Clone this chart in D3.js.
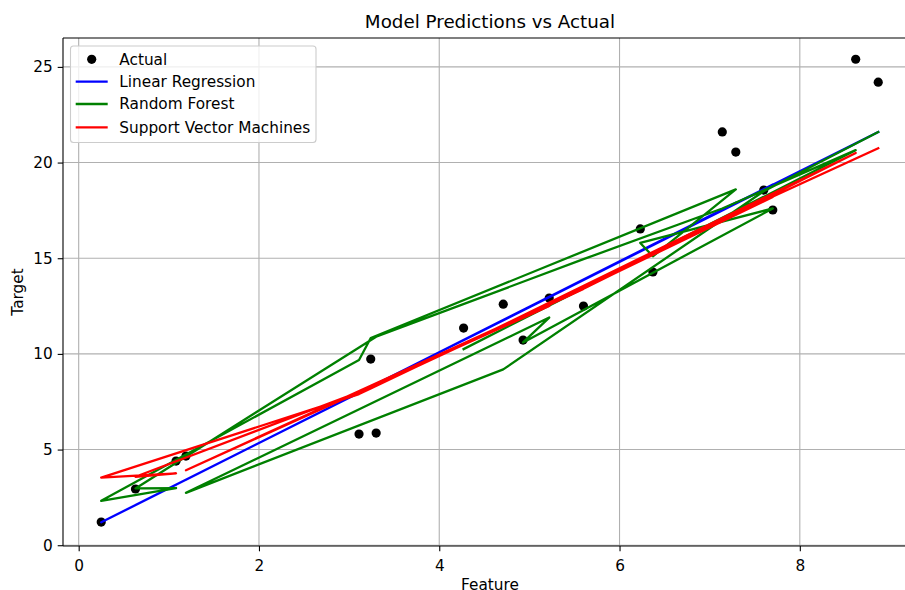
<!DOCTYPE html>
<html>
<head>
<meta charset="utf-8">
<script src="https://cdn.jsdelivr.net/npm/d3@7"></script>
<style>
  body { margin: 0; background: #fff; overflow: hidden; }
  text { font-family: "DejaVu Sans", sans-serif; fill: #000; }
</style>
</head>
<body>
<svg width="905" height="590"></svg>
<script>
// test points, in the order they were plotted (lines follow this order, unsorted)
let xTest     = [8.87, 7.60, 4.71, 1.19, 5.22, 4.93, 7.70, 6.23, 6.37, 7.29, 3.24, 3.11, 0.25, 1.08, 0.63, 3.30, 5.60, 7.14, 8.62, 4.27];
let yTest     = [24.20, 18.56, 12.60, 4.66, 12.92, 10.72, 17.52, 16.53, 14.28, 20.55, 9.73, 5.81, 1.21, 4.40, 2.94, 5.86, 12.50, 21.60, 25.40, 11.35];
let lrPred    = [21.60, 18.60, 11.76, 3.42, 12.97, 12.28, 18.85, 15.37, 15.70, 17.90, 8.28, 7.97, 1.20, 3.16, 2.10, 8.42, 13.87, 17.50, 21.00, 10.72];
let rfPred    = [21.60, 18.50, 9.19, 2.74, 11.90, 10.60, 17.60, 15.80, 15.10, 18.60, 10.83, 9.68, 2.32, 2.99, 2.97, 10.90, 14.95, 17.60, 20.65, 10.25];
let svrPred   = [20.75, 18.00, 11.50, 3.92, 12.50, 11.90, 18.20, 14.90, 15.20, 17.30, 8.20, 7.90, 3.53, 3.76, 3.58, 8.35, 13.40, 17.00, 20.50, 10.50];
let xTicks    = [0, 2, 4, 6, 8];
let yTicks    = [0, 5, 10, 15, 20, 25];
let seriesNames = ["Linear Regression", "Random Forest", "Support Vector Machines"];
let seriesColors = ["blue", "green", "red"];

let svg = d3.select("svg");

// plot area (right edge falls outside the picture, like the original crop)
let pLeft = 63, pRight = 917, pTop = 38, pBottom = 546;
let fs = 15.3, lw = 2.3;

let x = d3.scaleLinear().domain([-0.174, 9.30]).range([pLeft, pRight]);
let y = d3.scaleLinear().domain([-0.04, 26.51]).range([pBottom, pTop]);

// grid
let grid = svg.append("g").attr("stroke", "#b0b0b0").attr("stroke-width", 1.1);
grid.selectAll("line.vx").data(xTicks).enter().append("line")
    .attr("x1", d => x(d)).attr("x2", d => x(d))
    .attr("y1", pTop).attr("y2", pBottom);
grid.selectAll("line.hy").data(yTicks).enter().append("line")
    .attr("x1", pLeft).attr("x2", pRight)
    .attr("y1", d => y(d)).attr("y2", d => y(d));

// axes
let xAxis = d3.axisBottom(x).tickValues(xTicks).tickSize(5.3).tickPadding(9).tickFormat(d3.format("d"));
let yAxis = d3.axisLeft(y).tickValues(yTicks).tickSize(5.3).tickPadding(5).tickFormat(d3.format("d"));

let gx = svg.append("g").attr("transform", `translate(0,${pBottom})`).call(xAxis);
let gy = svg.append("g").attr("transform", `translate(${pLeft},0)`).call(yAxis);
[gx, gy].forEach(g => {
    g.select(".domain").remove();
    g.selectAll("line").attr("stroke", "#000").attr("stroke-width", 1.1);
    g.selectAll("text").attr("font-size", fs).attr("font-family", "DejaVu Sans");
});

let rows = xTest.map((v, i) => ({x: v, y: yTest[i], lr: lrPred[i], rf: rfPred[i], svr: svrPred[i]}));
let keys = ["lr", "rf", "svr"];

let plot = svg.append("g");
plot.selectAll("circle").data(rows).enter().append("circle")
    .attr("cx", d => x(d.x)).attr("cy", d => y(d.y))
    .attr("r", 4.6).attr("fill", "#000");

keys.forEach((k, i) => {
    let line = d3.line().x(d => x(d.x)).y(d => y(d[k]));
    plot.append("path").datum(rows)
        .attr("d", line)
        .attr("fill", "none")
        .attr("stroke", seriesColors[i])
        .attr("stroke-width", lw)
        .attr("stroke-linejoin", "round")
        .attr("stroke-linecap", "square");
});

// spines (no right spine visible in the crop)
let sp = svg.append("g").attr("stroke", "#000").attr("stroke-width", 1.1);
sp.append("line").attr("x1", pLeft).attr("x2", pLeft).attr("y1", pTop).attr("y2", pBottom);
sp.append("line").attr("x1", pLeft).attr("x2", pRight).attr("y1", pBottom).attr("y2", pBottom);
sp.append("line").attr("x1", pLeft).attr("x2", pRight).attr("y1", pTop).attr("y2", pTop);

// title and labels
svg.append("text").attr("x", (pLeft + pRight) / 2).attr("y", 28)
    .attr("text-anchor", "middle").attr("font-size", 18.3)
    .text("Model Predictions vs Actual");
svg.append("text").attr("x", (pLeft + pRight) / 2).attr("y", 590)
    .attr("text-anchor", "middle").attr("font-size", fs)
    .text("Feature");
svg.append("text").attr("transform", `translate(23,${(pTop + pBottom) / 2}) rotate(-90)`)
    .attr("text-anchor", "middle").attr("font-size", fs)
    .text("Target");

// legend
let lg = svg.append("g");
lg.append("rect").attr("x", 70.5).attr("y", 46).attr("width", 245.5).attr("height", 96.5)
    .attr("rx", 3).attr("fill", "#fff").attr("fill-opacity", 0.8)
    .attr("stroke", "#cccccc").attr("stroke-width", 1.1);
let ly = [59.3, 81.7, 104, 127.3];
lg.append("circle").attr("cx", 91.7).attr("cy", ly[0]).attr("r", 4.6).attr("fill", "#000");
lg.append("text").attr("x", 119.3).attr("y", ly[0]).attr("dy", "0.35em").attr("font-size", fs).text("Actual");
seriesNames.forEach((name, i) => {
    lg.append("line").attr("x1", 75.7).attr("x2", 107.7)
        .attr("y1", ly[i + 1]).attr("y2", ly[i + 1])
        .attr("stroke", seriesColors[i]).attr("stroke-width", lw);
    lg.append("text").attr("x", 119.3).attr("y", ly[i + 1]).attr("dy", "0.35em")
        .attr("font-size", fs).text(name);
});
</script>
</body>
</html>
